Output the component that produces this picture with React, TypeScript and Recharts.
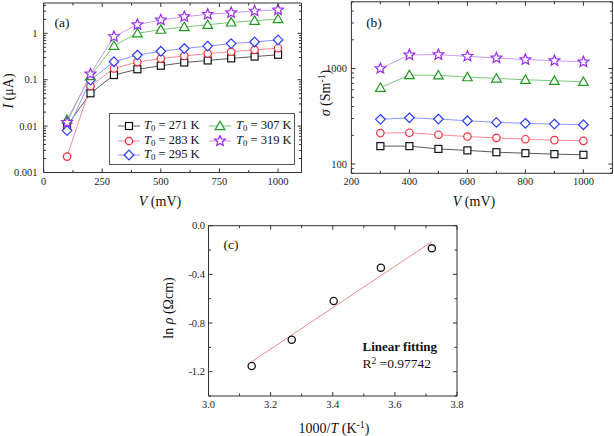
import { LineChart, Line, XAxis, YAxis, ScatterChart, Scatter } from 'recharts'

const FONT = '"Liberation Serif", "Times New Roman", serif'
const AXIS = '#333333'

// (a) current vs voltage, log scale
const voltage = [100, 200, 300, 400, 500, 600, 700, 800, 900, 1000]
const current271 = [0.0102, 0.051, 0.126, 0.168, 0.2, 0.235, 0.26, 0.288, 0.315, 0.345]
const current283 = [0.0022, 0.073, 0.175, 0.24, 0.285, 0.326, 0.365, 0.4, 0.44, 0.478]
const current295 = [0.008, 0.098, 0.244, 0.34, 0.41, 0.47, 0.53, 0.6, 0.65, 0.72]
const current307 = [0.0137, 0.12, 0.54, 1.0, 1.2, 1.37, 1.53, 1.72, 1.87, 2.03]
const current319 = [0.012, 0.133, 0.85, 1.54, 1.94, 2.28, 2.56, 2.78, 3.02, 3.2]

// (b) conductivity vs voltage, log scale
const sigmaVoltage = [300, 400, 500, 600, 700, 800, 900, 1000]
const sigma271 = [154, 154, 144, 139, 133, 130, 127, 125]
const sigma283 = [211, 213, 203, 194, 188, 182, 178, 175]
const sigma295 = [294, 305, 296, 284, 273, 267, 262, 258]
const sigma307 = [630, 855, 850, 813, 788, 763, 745, 727]
const sigma319 = [1000, 1390, 1398, 1343, 1290, 1240, 1210, 1173]

// (c) ln rho vs 1000/T
const inverseT = [3.139, 3.268, 3.403, 3.555, 3.719]
const lnRho = [-1.153, -0.937, -0.619, -0.345, -0.186]
const fitX = [3.139, 3.719]
const fitY = [-1.118, -0.132]

const aTicksX = [0, 125, 250, 375, 500, 625, 750, 875, 1000, 1100]
const aMajorX = [0, 250, 500, 750, 1000]
const aTicksY = [0.001, 0.002, 0.003, 0.004, 0.005, 0.006, 0.007, 0.008, 0.009, 0.01, 0.02, 0.03, 0.04, 0.05, 0.06, 0.07, 0.08, 0.09, 0.1, 0.2, 0.3, 0.4, 0.5, 0.6, 0.7, 0.8, 0.9, 1, 2, 3, 4]
const aMajorY = [0.001, 0.01, 0.1, 1]

const bTicksX = [200, 300, 400, 500, 600, 700, 800, 900, 1000, 1100]
const bMajorX = [200, 400, 600, 800, 1000]
const bTicksY = [80, 90, 100, 200, 300, 400, 500, 600, 700, 800, 900, 1000, 2000, 3000, 4000, 5000]
const bMajorY = [100, 1000]

const cTicksX = [3.0, 3.1, 3.2, 3.3, 3.4, 3.5, 3.6, 3.7, 3.8]
const cMajorX = [3.0, 3.2, 3.4, 3.6, 3.8]
const cTicksY = [0, -0.2, -0.4, -0.6, -0.8, -1.0, -1.2, -1.4]
const cMajorY = [0, -0.4, -0.8, -1.2]

const SERIES = [
  { key: 't271', label: '271', shape: 'square', marker: '#111111', line: '#5a5a5a' },
  { key: 't283', label: '283', shape: 'circle', marker: '#ff2a3a', line: '#ff8a96' },
  { key: 't295', label: '295', shape: 'diamond', marker: '#2a3cff', line: '#8a96ff' },
  { key: 't307', label: '307', shape: 'triangle', marker: '#1f9a1f', line: '#7cc87c' },
  { key: 't319', label: '319', shape: 'star', marker: '#9a2cf0', line: '#c99af5' },
]

const ivRows = voltage.map((v, i) => ({
  v, t271: current271[i], t283: current283[i], t295: current295[i], t307: current307[i], t319: current319[i],
}))
const sigmaRows = sigmaVoltage.map((v, i) => ({
  v, t271: sigma271[i], t283: sigma283[i], t295: sigma295[i], t307: sigma307[i], t319: sigma319[i],
}))
const rhoRows = inverseT.map((x, i) => ({ x, y: lnRho[i] }))
const fitRows = fitX.map((x, i) => ({ x, y: fitY[i] }))

function starPoints(cx: number, cy: number, r: number) {
  const pts: string[] = []
  for (let k = 0; k < 10; k++) {
    const rr = k % 2 === 0 ? r : r * 0.45
    const a = -Math.PI / 2 + (k * Math.PI) / 5
    pts.push(`${cx + rr * Math.cos(a)},${cy + rr * Math.sin(a)}`)
  }
  return pts.join(' ')
}

function Marker({ cx, cy, shape, color }: { cx: number; cy: number; shape: string; color: string }) {
  const common = { fill: '#fff', stroke: color, strokeWidth: 1.2 }
  if (shape === 'square') return <rect x={cx - 3.5} y={cy - 3.5} width={7} height={7} {...common} />
  if (shape === 'circle') return <circle cx={cx} cy={cy} r={3.7} {...common} />
  if (shape === 'diamond') return <polygon points={`${cx},${cy - 4.8} ${cx + 4.8},${cy} ${cx},${cy + 4.8} ${cx - 4.8},${cy}`} {...common} />
  if (shape === 'triangle') return <polygon points={`${cx},${cy - 4.8} ${cx + 4.8},${cy + 3.6} ${cx - 4.8},${cy + 3.6}`} {...common} />
  return <polygon points={starPoints(cx, cy, 5.6)} {...common} />
}

type Side = 'bottom' | 'top' | 'left' | 'right'

// axes are 1px thick boxes; with tickSize/tickMargin 0 recharts hands the tick the axis-line position
function makeTick(side: Side, majors: number[], fmt: (v: number) => string, gap: number) {
  return (props: any) => {
    const { x, y, payload } = props
    const v = payload.value
    const major = majors.some(m => Math.abs(m - v) <= Math.abs(m) * 1e-6 + 1e-9)
    const len = major ? 4 : 2.5
    let line
    let label = null
    if (side === 'bottom') {
      line = <line x1={x} y1={y} x2={x} y2={y - len} />
      if (major) label = <text x={x} y={y + gap} textAnchor="middle">{fmt(v)}</text>
    } else if (side === 'top') {
      line = <line x1={x} y1={y} x2={x} y2={y + len} />
    } else if (side === 'left') {
      line = <line x1={x} y1={y} x2={x + len} y2={y} />
      if (major) label = <text x={x - gap} y={y + 3.7} textAnchor="end">{fmt(v)}</text>
    } else {
      line = <line x1={x} y1={y} x2={x - len} y2={y} />
    }
    return (
      <g>
        <g stroke={AXIS} strokeWidth={1}>{line}</g>
        {label && <g fill="#222" fontSize={10.5} fontFamily={FONT} stroke="none">{label}</g>}
      </g>
    )
  }
}

function Txt({ x, y, size = 14, rotate = false, bold = false, left = false, children }: any) {
  return (
    <div style={{
      position: 'absolute', left: x, top: y, whiteSpace: 'nowrap', lineHeight: 1,
      fontFamily: FONT, fontSize: size, fontWeight: bold ? 'bold' : 'normal', color: '#111',
      transform: `translate(${left ? '0' : '-50%'},-50%)${rotate ? ' rotate(-90deg)' : ''}`,
    }}>{children}</div>
  )
}

const sub = { fontSize: '0.7em', verticalAlign: '-0.3em' }
const sup = { fontSize: '0.7em', verticalAlign: '0.45em' }

// plot box given in page coordinates relative to the chart's own corner
function frameMargin(w: number, h: number, left: number, top: number, right: number, bottom: number) {
  return { left: left - 1, top: top - 1, right: w - right - 1, bottom: h - bottom - 1 }
}

function LogPanel({ rows, width, height, margin, xDomain, xTicks, xMajor, yDomain, yTicks, yMajor, yFmt, gap }: any) {
  return (
    <LineChart width={width} height={height} data={rows} margin={margin}>
      <XAxis xAxisId="t" orientation="top" type="number" dataKey="v" domain={xDomain} allowDataOverflow ticks={xTicks} interval={0} height={1} tickSize={0} tickMargin={0} tickLine={false} axisLine={{ stroke: AXIS }} tick={makeTick('top', xMajor, String, 0)} />
      <XAxis xAxisId="b" type="number" dataKey="v" domain={xDomain} allowDataOverflow ticks={xTicks} interval={0} height={1} tickSize={0} tickMargin={0} tickLine={false} axisLine={{ stroke: AXIS }} tick={makeTick('bottom', xMajor, String, 12)} />
      <YAxis yAxisId="l" type="number" scale="log" domain={yDomain} allowDataOverflow ticks={yTicks} interval={0} width={1} tickSize={0} tickMargin={0} tickLine={false} axisLine={{ stroke: AXIS }} tick={makeTick('left', yMajor, yFmt, gap)} />
      <YAxis yAxisId="r" orientation="right" type="number" scale="log" domain={yDomain} allowDataOverflow ticks={yTicks} interval={0} width={1} tickSize={0} tickMargin={0} tickLine={false} axisLine={{ stroke: AXIS }} tick={makeTick('right', yMajor, yFmt, 0)} />
      {SERIES.map(s => (
        <Line key={s.key} xAxisId="b" yAxisId="l" dataKey={s.key} stroke={s.line} strokeWidth={1} isAnimationActive={false}
          dot={(p: any) => <Marker key={`${s.key}-${p.index}`} cx={p.cx} cy={p.cy} shape={s.shape} color={s.marker} />} />
      ))}
    </LineChart>
  )
}

function LegendIcon({ shape, marker, line }: any) {
  return (
    <svg width={22} height={12} style={{ display: 'block' }}>
      <line x1={0} y1={6} x2={22} y2={6} stroke={line} strokeWidth={1} />
      <Marker cx={11} cy={6} shape={shape} color={marker} />
    </svg>
  )
}

const legendSlots = [
  { ix: 117.5, tx: 144, y: 126 },
  { ix: 117.5, tx: 144, y: 140.5 },
  { ix: 117.5, tx: 144, y: 155 },
  { ix: 208.5, tx: 236, y: 126 },
  { ix: 208.5, tx: 236, y: 140.5 },
]

export default function App() {
  return (
    <div style={{ position: 'absolute', left: 0, top: 0, width: 614, height: 436, background: '#fff', overflow: 'hidden' }}>
      {/* (a) */}
      <div style={{ position: 'absolute', left: 0, top: 0 }}>
        <LogPanel rows={ivRows} width={320} height={220}
          margin={frameMargin(320, 220, 43.6, 3, 301.5, 172.5)}
          xDomain={[0, 1100]} xTicks={aTicksX} xMajor={aMajorX}
          yDomain={[0.001, 4.5]} yTicks={aTicksY} yMajor={aMajorY} yFmt={(v: number) => String(v)} gap={6} />
      </div>
      <div style={{ position: 'absolute', left: 108.5, top: 113, width: 186.5, height: 52, border: '1px solid #555', background: '#fff', boxSizing: 'border-box' }} />
      {legendSlots.map((slot, i) => {
        const s = SERIES[i]
        return (
          <div key={s.key}>
            <div style={{ position: 'absolute', left: slot.ix, top: slot.y - 6 }}><LegendIcon {...s} /></div>
            <Txt x={slot.tx} y={slot.y} size={12.5} left><i>T</i><span style={sub}>0</span> = {s.label} K</Txt>
          </div>
        )
      })}
      <Txt x={62} y={23} size={13.5}>(a)</Txt>
      <Txt x={9} y={91} size={14} rotate><i>I</i> (μA)</Txt>
      <Txt x={160} y={202} size={14}><i>V</i> (mV)</Txt>

      {/* (b) */}
      <div style={{ position: 'absolute', left: 300, top: 0 }}>
        <LogPanel rows={sigmaRows} width={314} height={220}
          margin={frameMargin(314, 220, 51.4, 1.8, 312.4, 173.3)}
          xDomain={[200, 1100]} xTicks={bTicksX} xMajor={bMajorX}
          yDomain={[80, 5000]} yTicks={bTicksY} yMajor={bMajorY} yFmt={(v: number) => String(v)} gap={4.5} />
      </div>
      <Txt x={374} y={23} size={13.5}>(b)</Txt>
      <Txt x={325} y={93} size={14} rotate><i>σ</i> (Sm<span style={sup}>-1</span>)</Txt>
      <Txt x={474} y={202} size={14}><i>V</i> (mV)</Txt>

      {/* (c) */}
      <div style={{ position: 'absolute', left: 160, top: 210 }}>
        <ScatterChart width={310} height={226} margin={frameMargin(310, 226, 48.5, 15.7, 297, 186)}>
          <XAxis xAxisId="t" orientation="top" type="number" dataKey="x" domain={[3.0, 3.8]} allowDataOverflow ticks={cTicksX} interval={0} height={1} tickSize={0} tickMargin={0} tickLine={false} axisLine={{ stroke: AXIS }} tick={makeTick('top', cMajorX, v => v.toFixed(1), 0)} />
          <XAxis xAxisId="b" type="number" dataKey="x" domain={[3.0, 3.8]} allowDataOverflow ticks={cTicksX} interval={0} height={1} tickSize={0} tickMargin={0} tickLine={false} axisLine={{ stroke: AXIS }} tick={makeTick('bottom', cMajorX, v => v.toFixed(1), 12)} />
          <YAxis yAxisId="l" type="number" dataKey="y" domain={[-1.4, 0]} allowDataOverflow ticks={cTicksY} interval={0} width={1} tickSize={0} tickMargin={0} tickLine={false} axisLine={{ stroke: AXIS }} tick={makeTick('left', cMajorY, v => v.toFixed(1), 3.5)} />
          <YAxis yAxisId="r" orientation="right" type="number" dataKey="y" domain={[-1.4, 0]} allowDataOverflow ticks={cTicksY} interval={0} width={1} tickSize={0} tickMargin={0} tickLine={false} axisLine={{ stroke: AXIS }} tick={makeTick('right', cMajorY, v => v.toFixed(1), 0)} />
          <Scatter xAxisId="b" yAxisId="l" data={fitRows} line={{ stroke: '#f08a8a', strokeWidth: 1 }} shape={() => <g />} isAnimationActive={false} />
          <Scatter xAxisId="b" yAxisId="l" data={rhoRows} isAnimationActive={false}
            shape={(p: any) => <circle cx={p.cx} cy={p.cy} r={3.6} fill="none" stroke="#111" strokeWidth={1.3} />} />
        </ScatterChart>
      </div>
      <Txt x={231} y={245} size={13.5}>(c)</Txt>
      <Txt x={169} y={308} size={14} rotate>ln <i>ρ</i> (Ωcm)</Txt>
      <Txt x={334} y={428} size={14}>1000/<i>T</i> (K<span style={sup}>-1</span>)</Txt>
      <Txt x={362.5} y={346} size={13} bold left>Linear fitting</Txt>
      <Txt x={362.5} y={364} size={13.5} left>R<span style={sup}>2</span> =0.97742</Txt>
    </div>
  )
}
